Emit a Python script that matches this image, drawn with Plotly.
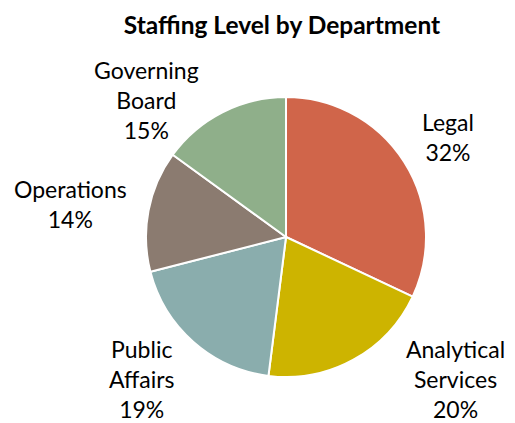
import plotly.graph_objects as go

departments = ["Legal", "Analytical Services", "Public Affairs", "Operations", "Governing Board"]
label_lines = ["Legal", "Analytical<br>Services", "Public<br>Affairs", "Operations", "Governing<br>Board"]
staff_share = [32, 20, 19, 14, 15]
slice_colors = ["#D0654A", "#CDB400", "#8AADAD", "#8B7B70", "#8FAF8A"]

W, H = 515, 423
OFF = 8  # page body margin offset
FW, FH = W - OFF, H - OFF
# label centres in pixels of the final picture (layout only)
label_xy_px = [(448, 137), (455, 379), (142, 379), (70, 204), (146, 100)]


def px_x(x):
    return (x - OFF) / FW


def px_y(y):
    return 1 - (y - OFF) / FH


fig = go.Figure(go.Pie(
    labels=departments,
    values=staff_share,
    sort=False,
    direction="clockwise",
    rotation=0,
    marker=dict(colors=slice_colors, line=dict(color="white", width=2)),
    textinfo="none",
    domain=dict(x=[px_x(146), px_x(426)], y=[px_y(377), px_y(97)]),
    showlegend=False,
    hoverinfo="label+percent",
))

total = sum(staff_share)
for lab, val, (px, py) in zip(label_lines, staff_share, label_xy_px):
    fig.add_annotation(
        x=px_x(px), y=px_y(py), xref="paper", yref="paper",
        text=f"{lab}<br>{round(val / total * 100)}%",
        showarrow=False, xanchor="center", yanchor="middle", align="center",
        font=dict(family="Lato", size=23, color="black"),
    )

fig.update_layout(
    width=FW, height=FH,
    margin=dict(l=0, r=0, t=0, b=0),
    paper_bgcolor="white",
    title=dict(text="<b>Staffing Level by Department</b>", x=px_x(282), xanchor="center",
               y=px_y(25), yanchor="middle",
               font=dict(family="Lato", size=24.5, color="black")),
)

fig.write_html("out.html")
